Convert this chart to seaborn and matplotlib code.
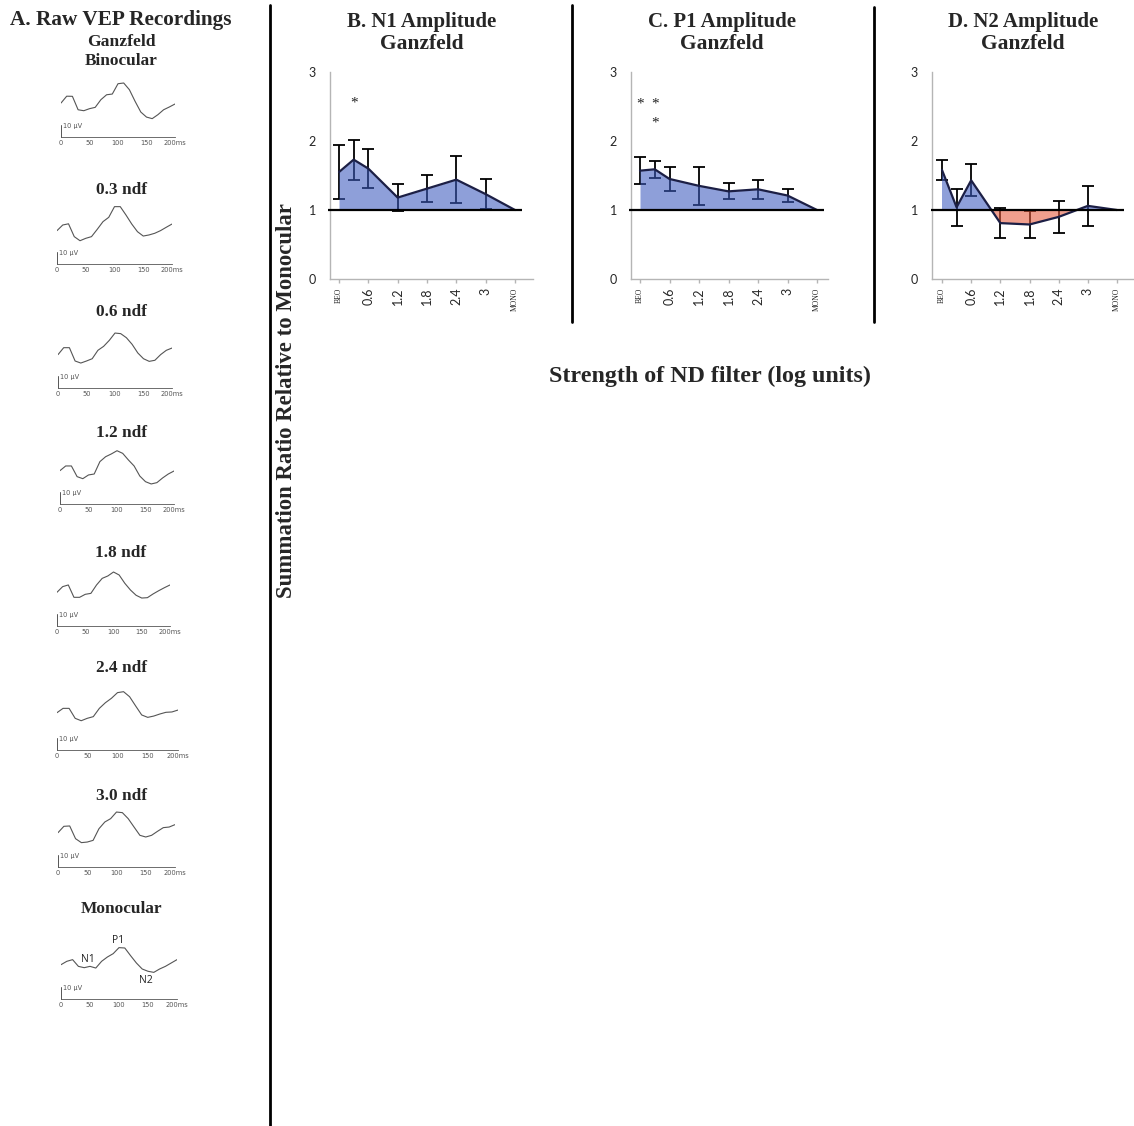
import numpy as np
import pandas as pd
import matplotlib
matplotlib.use("Agg")
import matplotlib.pyplot as plt
import seaborn as sns
from matplotlib.lines import Line2D

# ---------------- data ----------------
ND_POS = [0, 0.3, 0.6, 1.2, 1.8, 2.4, 3.0, 3.6]
TICK_POS = [0, 0.6, 1.2, 1.8, 2.4, 3.0, 3.6]
TICK_LABELS = ["BEO", "0.6", "1.2", "1.8", "2.4", "3", "MONO"]

n1_mean = [1.55, 1.73, 1.60, 1.18, 1.31, 1.44, 1.23, 1.0]
n1_err = [0.39, 0.29, 0.28, 0.20, 0.20, 0.34, 0.22, 0.0]
p1_mean = [1.57, 1.59, 1.45, 1.35, 1.27, 1.30, 1.21, 1.0]
p1_err = [0.20, 0.12, 0.18, 0.28, 0.115, 0.135, 0.10, 0.0]
n2_mean = [1.58, 1.04, 1.43, 0.81, 0.79, 0.90, 1.06, 1.0]
n2_err = [0.145, 0.265, 0.23, 0.215, 0.19, 0.235, 0.29, 0.0]

n1_stars = [(0.3, 2.61)]
p1_stars = [(0.0, 2.60), (0.3, 2.60), (0.3, 2.32)]
n2_stars = []

# raw VEP waveforms (uV above the time axis), sampled every 10 ms from 0 to 200 ms
TIME_MS = list(range(0, 201, 10))
wave_binocular = [28.3, 34.0, 33.9, 22.7, 21.9, 23.6, 24.7, 31.1, 35.2, 35.8, 44.4,
                  45.0, 39.4, 29.7, 20.8, 16.6, 15.3, 18.6, 22.7, 25.0, 27.5]
wave_03 = [27.8, 32.5, 33.5, 22.8, 19.4, 21.4, 22.8, 28.9, 35.3, 38.9, 47.8,
           47.8, 40.8, 33.3, 26.9, 23.3, 24.2, 25.6, 27.8, 30.6, 33.3]
wave_06 = [27.8, 33.6, 33.6, 22.5, 20.8, 22.5, 24.4, 31.4, 34.7, 39.7, 45.8,
           45.3, 41.9, 36.4, 29.2, 24.4, 22.2, 23.1, 27.8, 31.4, 33.3]
wave_12 = [27.8, 31.7, 31.7, 22.8, 21.1, 24.2, 25.0, 35.3, 39.4, 41.7, 44.4,
           42.2, 36.7, 31.7, 23.3, 18.6, 16.7, 17.8, 21.7, 25.0, 27.5]
wave_18 = [28.1, 32.8, 34.2, 23.9, 23.9, 26.4, 27.2, 34.2, 39.7, 41.7, 45.0,
           42.5, 35.6, 30.0, 25.6, 23.3, 23.6, 26.7, 29.4, 31.9, 34.2]
wave_24 = [31.1, 34.7, 34.7, 26.4, 24.4, 26.4, 27.8, 34.7, 39.4, 43.1, 47.8,
           48.6, 44.4, 36.7, 29.2, 27.2, 28.3, 30.0, 31.4, 31.7, 33.3]
wave_30 = [28.6, 33.9, 34.2, 23.6, 20.3, 20.8, 22.2, 31.9, 37.5, 40.3, 45.8,
           45.3, 40.3, 33.3, 26.4, 25.0, 26.4, 29.7, 32.8, 33.3, 35.3]
wave_mono = [28.6, 31.4, 32.8, 27.2, 26.1, 27.2, 25.8, 31.4, 35.0, 37.8, 42.8,
             42.5, 36.1, 30.0, 25.0, 23.1, 22.2, 25.0, 27.2, 30.0, 32.8]

WAVE_NAMES = ["Binocular", "0.3 ndf", "0.6 ndf", "1.2 ndf", "1.8 ndf", "2.4 ndf", "3.0 ndf", "Monocular"]
WAVES = [wave_binocular, wave_03, wave_06, wave_12, wave_18, wave_24, wave_30, wave_mono]
TIME_TICKS = [0, 50, 100, 150, 200]
TIME_TICK_LABELS = ["0", "50", "100", "150", "200ms"]
SCALE_UV = 10
mono_peaks = [("N1", 46, 32.5), ("P1", 98, 48.5), ("N2", 146, 15.5)]

# ---------------- style ----------------
sns.set_theme(style="white")
plt.rcParams['font.family'] = ['Lato', 'DejaVu Sans']
SERIF = ['Liberation Serif', 'DejaVu Serif']

W, H = 1134, 1126
fig = plt.figure(figsize=(W / 100, H / 100), dpi=100)


def add_ax(l, t, r, b):
    return fig.add_axes([l / W, 1 - b / H, (r - l) / W, (b - t) / H])


def ftext(x, y, s, **kw):
    fig.text(x / W, 1 - y / H, s, ha='center', va='center', **kw)


# ---------------- panel A ----------------
ftext(121, 20, "A. Raw VEP Recordings", family=SERIF, fontweight='bold', fontsize=15.3)
ftext(121, 42, "Ganzfeld", family=SERIF, fontweight='bold', fontsize=12.6)

# (t0 px, t200 px, axis y px, label y px)
wave_layout = [(61, 175, 137, 61), (57, 172, 264, 190), (58, 172, 388, 312), (60, 174, 504, 433),
               (57, 170, 626, 553), (57, 178, 750, 668), (58, 175, 867, 796), (61, 177, 999, 909)]
wave_color = '#555555'
for name, wave, (x0, x1, ay, ly) in zip(WAVE_NAMES, WAVES, wave_layout):
    ftext(121, ly, name, family=SERIF, fontweight='bold', fontsize=12.4)
    ax = add_ax(x0, ay - 60, x1, ay)
    sns.lineplot(x=TIME_MS, y=wave, ax=ax, color=wave_color, lw=0.8)
    ax.set_xlim(0, 200)
    ax.set_ylim(0, 50)
    for s in ['top', 'right', 'left']:
        ax.spines[s].set_visible(False)
    ax.spines['bottom'].set_color(wave_color)
    ax.spines['bottom'].set_linewidth(0.6)
    ax.set_xticks(TIME_TICKS)
    ax.set_xticklabels(TIME_TICK_LABELS, fontsize=4.8, color=wave_color, family=['DejaVu Sans'])
    ax.set_yticks([])
    ax.tick_params(axis='x', length=0, pad=2)
    ax.set_xlabel("")
    ax.set_ylabel("")
    ax.plot([0, 0], [0, SCALE_UV], color=wave_color, lw=0.7, clip_on=False)
    ax.text(4, SCALE_UV - 1, "10 \u00b5V", fontsize=4.8, color=wave_color, va='center',
            family=['DejaVu Sans'])
    ax.patch.set_alpha(0)
    if name == "Monocular":
        for lab, t, v in mono_peaks:
            ax.text(t, v, lab, fontsize=7.5, ha='center', va='center', color='#222222',
                    family=['Open Sans', 'DejaVu Sans'])

# ---------------- panels B-D ----------------
BLUE = (60 / 255, 90 / 255, 190 / 255)
RED = (230 / 255, 90 / 255, 60 / 255)
NAVY = '#1c1f45'
GRAY = '#b5b5b5'

# left px, BEO px, MONO px, right px, title center px
chart_layout = [(330, 339, 515, 533, 422), (631, 640, 817, 828, 722), (932, 942, 1117, 1134, 1023)]
titles = ["B. N1 Amplitude", "C. P1 Amplitude", "D. N2 Amplitude"]
series = [(n1_mean, n1_err, n1_stars), (p1_mean, p1_err, p1_stars), (n2_mean, n2_err, n2_stars)]

for (l, bx, mx, r, tc), title, (mean, err, stars) in zip(chart_layout, titles, series):
    ftext(tc, 22, title, family=SERIF, fontweight='bold', fontsize=15)
    ftext(tc, 44, "Ganzfeld", family=SERIF, fontweight='bold', fontsize=15.5)
    ax = add_ax(l, 72, r, 279)
    scale = (mx - bx) / 3.6
    ax.set_xlim(-(bx - l) / scale, 3.6 + (r - mx) / scale)
    ax.set_ylim(0, 3)
    m = np.array(mean)
    x = np.array(ND_POS)
    ax.errorbar(x, m, yerr=err, fmt='none', ecolor='black', elinewidth=1.3,
                capsize=4.3, capthick=1.3, zorder=2)
    ax.fill_between(x, 1, m, where=m >= 1, interpolate=True, color=BLUE, alpha=0.58,
                    lw=0, zorder=3)
    ax.fill_between(x, 1, m, where=m <= 1, interpolate=True, color=RED, alpha=0.58,
                    lw=0, zorder=3)
    sns.lineplot(x=ND_POS, y=mean, ax=ax, color=NAVY, lw=1.6, zorder=4)
    ax.hlines(1, -0.22, 3.74, color='black', lw=1.6, zorder=5, clip_on=False)
    for sx, sy in stars:
        ax.text(sx, sy - 0.06, "*", ha='center', va='center', fontsize=11, color='#222222',
                family=SERIF)
    ax.set_yticks([0, 1, 2, 3])
    ax.set_yticklabels(["0", "1", "2", "3"], fontsize=9)
    ax.set_xticks(TICK_POS)
    ax.set_xticklabels(TICK_LABELS, rotation=90, fontsize=9)
    for lab in ax.get_xticklabels():
        if lab.get_text() in ("BEO", "MONO"):
            lab.set_fontsize(5.5)
            lab.set_family(SERIF)
    ax.tick_params(axis='x', length=3, color=GRAY, width=1, pad=3, direction='out', bottom=True)
    ax.tick_params(axis='y', length=0, pad=10)
    ax.set_xlabel("")
    ax.set_ylabel("")
    for s in ['top', 'right']:
        ax.spines[s].set_visible(False)
    for s in ['left', 'bottom']:
        ax.spines[s].set_color(GRAY)
        ax.spines[s].set_linewidth(1)
    ax.grid(False)
    ax.patch.set_alpha(0)

# axis labels
fig.text(287 / W, 1 - 401 / H, "Summation Ratio Relative to Monocular", rotation=90,
         ha='center', va='center', family=SERIF, fontweight='bold', fontsize=16.4)
ftext(710, 376, "Strength of ND filter (log units)", family=SERIF, fontweight='bold', fontsize=17.3)

# separators
fig.add_artist(Line2D([270 / W, 270 / W], [1 - 5 / H, 0], color='black', lw=2))
fig.add_artist(Line2D([572 / W, 572 / W], [1 - 5 / H, 1 - 322 / H], color='black', lw=2))
fig.add_artist(Line2D([874 / W, 874 / W], [1 - 7 / H, 1 - 322 / H], color='black', lw=2))

fig.savefig("out.png", dpi=100)
